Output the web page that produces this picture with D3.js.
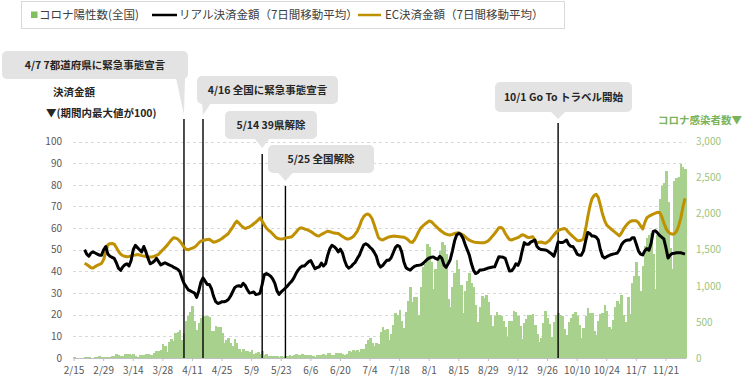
<!DOCTYPE html>
<html><head><meta charset="utf-8">
<script src="https://cdn.jsdelivr.net/npm/d3@7"></script>
<style>
body{margin:0;background:#fff;}
svg{display:block;font-family:"Noto Sans CJK JP","Noto Sans",sans-serif;}
</style>
</head><body>
<svg id="c" width="750" height="385"></svg>
<script>
// ---------------- DATA ----------------
const firstDay = "2020-02-15";
const lastDay = "2020-11-30";

// Daily new COVID-19 positives, Japan (2/15 - 11/30)
const cases = [
  8,5,6,4,3,10,9,14,5,6,14,20,23,18,12,
  11,16,15,32,30,58,47,33,26,59,52,55,41,61,33,15,44,39,40,50,52,42,38,65,93,98,112,200,173,87,220,
  266,235,351,367,383,252,351,515,576,644,720,507,391,482,549,587,576,584,568,368,374,450,436,436,348,202,248,278,203,165,
  263,203,129,86,123,97,98,82,114,60,66,85,55,99,41,58,28,30,31,33,29,19,26,19,21,34,38,32,48,51,37,
  36,51,40,39,44,43,34,13,40,40,41,61,41,72,76,40,38,73,69,68,55,41,57,96,87,105,101,110,86,127,
  121,195,250,274,208,160,207,190,355,428,386,408,252,332,451,623,595,664,511,420,632,795,981,779,842,839,599,982,1264,1301,1580,
  1536,1331,959,1237,1354,1485,1605,1565,1442,813,700,985,1176,1360,1233,1012,617,930,1072,1179,1034,985,740,499,712,862,834,868,781,595,440,
  583,632,591,588,508,428,297,506,510,649,644,582,440,270,485,541,591,596,606,464,339,217,278,479,646,560,478,296,504,598,
  629,597,582,403,312,495,550,609,642,585,457,273,414,583,686,619,626,372,315,509,608,620,740,649,426,402,525,710,787,751,868,
  600,495,842,614,1046,1136,1330,1137,929,1268,1551,1658,1706,1730,1438,951,1699,2201,2386,2424,2596,2168,1520,1228,2450,2500,2510,2684,2650,2620
];

// 7-day moving averages (index, period max = 100), from 2/20
const lineStart = "2020-02-20";
const realPay = [
  50,48,47,48.5,49,48.5,48,47.5,47.5,50,
  51.5,48,47,46.5,46,44,41.5,40.5,42,43,
  43.5,42.5,45,50,52,51,50,49,51.5,49,
  46,43.5,44,44.8,46,44.5,43,43.5,44,43.5,
  43,42.6,42,41.5,41,40,37,34.5,33,31.5,
  31,30.5,30,28,31,35,37,35.5,34,34,
  32,28.5,26,25.2,25.5,26,26,26.3,27,28.5,
  30.5,32.5,33.2,33.4,33,34.5,33.5,31.5,30,30.2,
  30.5,29.3,29.5,30,34,38.5,39,38.5,37.8,36.5,
  34.5,31,29.4,30.5,31.4,32.3,33.3,34.5,35.5,37,
  39,40.6,41.8,42.5,42.5,43.5,44.5,45,43,41.2,
  41.8,42.1,43.8,42.5,43.5,47.5,50.5,52,51.5,50.5,
  49,50.3,48.5,45,42.5,41.5,42.2,43.3,44.2,46,
  47.5,50,52.2,52.8,52.2,51.1,50.3,48.8,47,43.5,
  42,42.7,44,45.1,45.2,46.3,48.6,51,52,51.5,
  49,44.5,41.8,41,40.6,41.5,42.3,42.7,42.8,43,
  43.6,44.5,45.5,46.2,46.5,46.7,46,45.6,47,46,
  43,41.9,43.5,45.5,49.5,54,56.8,57.6,57,55.3,
  52.5,50,47.5,43.5,40.5,39,39.5,40.6,40.7,40.9,
  41.2,41.6,41.8,42,42.1,44.5,46.8,46.7,46.5,46,
  43,40.2,40.3,41.5,43.5,42.8,45,49.5,53.3,52.5,
  52.5,53.5,54,54.5,51.5,50.5,50.1,50,49.9,49.5,
  48.7,48,47,50,53.6,53.4,53.3,53.8,54.5,52.5,
  51.6,51.5,50,48,47.5,47.5,49.5,54,58,57.5,
  56.3,56.3,55.8,54.5,50,47,46.2,46.8,47.3,47.7,
  48,48.2,48.5,50,52.3,53.6,54.3,54.5,54.5,55.5,
  55.5,52.5,49.5,48,47.6,49.5,50.5,49.8,53,58.5,
  58.8,57.8,56.6,55.8,55,51,46.2,47.5,48.3,48.4,
  48.6,48.6,48.6,48.3,48
];
const ecPay = [
  43.8,43.2,42.5,41.7,41.6,42.2,42.8,43.2,43.7,45.5,
  49,52.3,52.8,52.9,52.6,51,49.3,48,47.3,47,
  46.8,46.9,47.2,47.5,47.6,47.8,47.6,47.3,47.1,46.9,
  46.7,46.7,46.7,47,47.4,47.9,49,50,51,52,
  53.3,54.5,55.5,55.4,55,54,52.8,51.2,50.2,50,
  50.4,50.8,51.2,52,53.2,54,54.3,54.5,54.7,54.8,
  54.2,53.5,53.7,54.1,54.6,55.2,56,56.7,57.5,59,
  60.3,62,63.2,62.3,61.2,60.3,59.8,60.2,60.6,61.2,
  62,62.8,63.7,64.7,63.2,61.5,60,59,58.3,57.3,
  56.2,55.4,55.1,54.9,55.1,55.4,55.6,55.8,56,57,
  58.1,59.3,60.1,60,59.6,59.3,58.9,58.4,57.7,57,
  56.5,56.4,57.1,57.6,58.1,58.6,58.3,58,57.7,57.6,
  57.5,56.8,56.1,55.5,55,55,55.4,56,57.2,58.6,
  60.8,63.5,65.3,66.2,66.5,65.8,64.3,61.5,58.5,55.6,
  54.8,54.5,55,55.5,55.9,56.1,56.3,56.2,56.1,56,
  55.9,55.8,55.3,54.6,53.6,53.4,54.5,56.3,58.3,60,
  61,61.8,62.6,63.3,63,62,61,60.1,59.1,58.4,
  57.7,57.2,56.9,56.8,57.1,57.5,57.7,57.8,57.3,56.8,
  56,55.1,54.4,54,53.6,53.4,53.3,53.2,53.2,53.2,
  53.6,54.2,55.2,56.4,57.5,58.8,60.2,60.3,59.5,57.5,
  56,54.7,54.5,54.9,55.3,55.6,56.2,56.9,56.7,56,
  55.6,55.8,56,54.5,53,53.5,53.6,53.2,53,53.6,
  54.4,55.6,56.8,58,58.9,59.3,59.6,59.8,59.2,58,
  57,56.1,55.2,54.3,54.2,54.4,55,59.5,65,70,
  73.5,75,75.6,74.2,70.5,66.5,63.5,61.4,60.5,59.6,
  58.8,58,57.2,56.4,57.8,59.6,61,62.2,63,63.4,
  63.4,63.4,62.5,61,59.6,62.5,64.8,65.5,66,66.5,
  66.9,67.3,67.2,65.4,62.5,59.9,58.4,57.5,57.2,57.4,
  58.5,61,64.5,69.5,73.7
];

const leftTicks = [0,10,20,30,40,50,60,70,80,90,100];
const rightTicks = [0,500,1000,1500,2000,2500,3000];
const xTickLabels = ["2/15","2/29","3/14","3/28","4/11","4/25","5/9","5/23","6/6","6/20","7/4","7/18","8/1","8/15","8/29","9/12","9/26","10/10","10/24","11/7","11/21"];

const annoDates = ["2020-04-07","2020-04-16","2020-05-14","2020-05-25","2020-10-01"];
const annoLabels = ["4/7 7都道府県に緊急事態宣言","4/16 全国に緊急事態宣言","5/14 39県解除","5/25 全国解除","10/1 Go To トラベル開始"];

const legendLabels = ["コロナ陽性数(全国)","リアル決済金額（7日間移動平均）","EC決済金額（7日間移動平均）"];
const leftTitle = ["決済金額","▼(期間内最大値が100)"];
const rightTitle = "コロナ感染者数▼";

// ---------------- LAYOUT / STYLE ----------------
const W = 750, H = 385;
const plot = {left: 73, right: 686, top: 141.5, bottom: 358};
const C = {bar:"#a9d18e", real:"#000000", ec:"#bf9000", grid:"#d9d9d9", axis:"#bfbfbf",
           tick:"#595959", green:"#7ab35a", greenTick:"#9cc47e", box:"#e3e3e3", text:"#262626"};
// callout boxes: x, y, w, h, line top, pointer tip y
const boxLayout = [
  {x:2,   y:51,  w:186, h:28, top:119, tip:115},
  {x:197, y:76,  w:141, h:28, top:119, tip:115},
  {x:225, y:111, w:92,  h:28, top:154, tip:148},
  {x:268, y:145, w:106, h:28, top:186, tip:181},
  {x:495, y:82,  w:137, h:30, top:123, tip:119}
];

const parse = d3.timeParse("%Y-%m-%d");
const fmtMD = d3.timeFormat("%-m/%-d");
const days = d3.timeDay.range(parse(firstDay), d3.timeDay.offset(parse(lastDay), 1));
const keys = days.map(d => d3.timeFormat("%Y-%m-%d")(d));

const x = d3.scaleBand().domain(keys).range([plot.left, plot.right]).padding(0);
const bw = x.bandwidth();
const cx = k => x(k) + bw / 2;
const yL = d3.scaleLinear().domain([0,100]).range([plot.bottom, plot.top]);
const yR = d3.scaleLinear().domain([0,3000]).range([plot.bottom, plot.top]);

const svg = d3.select("#c");
svg.append("rect").attr("width", W).attr("height", H).attr("fill", "#fff");

// gridlines
svg.append("g").selectAll("line").data(leftTicks.filter(t => t > 0)).join("line")
  .attr("x1", plot.left).attr("x2", plot.right)
  .attr("y1", d => Math.round(yL(d)) + 0.5).attr("y2", d => Math.round(yL(d)) + 0.5)
  .attr("stroke", C.grid).attr("stroke-width", 1).attr("stroke-dasharray", "3,3");

// bars
svg.append("g").attr("shape-rendering", "crispEdges").selectAll("rect").data(cases).join("rect")
  .attr("x", (d, i) => x(keys[i]))
  .attr("width", bw + 0.6)
  .attr("y", d => yR(d))
  .attr("height", d => plot.bottom - yR(d))
  .attr("fill", C.bar);

// x axis
const xAxis = d3.axisBottom(x)
  .tickValues(keys.filter(k => xTickLabels.includes(fmtMD(parse(k)))))
  .tickFormat(k => fmtMD(parse(k)))
  .tickSizeInner(3).tickSizeOuter(0).tickPadding(6);
const gx = svg.append("g").attr("transform", `translate(0,${plot.bottom})`).call(xAxis);
gx.select(".domain").attr("stroke", C.axis);
gx.selectAll(".tick line").attr("stroke", C.axis);
gx.selectAll(".tick text").attr("fill", C.tick).attr("font-size", 10).attr("font-family", "'Noto Sans CJK JP',sans-serif");

// left axis
const gl = svg.append("g").attr("transform", `translate(${plot.left - 11},0)`)
  .call(d3.axisLeft(yL).tickValues(leftTicks).tickSize(0).tickPadding(0));
gl.select(".domain").remove();
gl.selectAll(".tick text").attr("fill", C.tick).attr("font-size", 10).attr("font-family", "'Noto Sans CJK JP',sans-serif");

// right axis
const gr = svg.append("g").attr("transform", `translate(696,0)`)
  .call(d3.axisRight(yR).tickValues(rightTicks).tickFormat(d3.format(",")).tickSize(0).tickPadding(0));
gr.select(".domain").remove();
gr.selectAll(".tick text").attr("fill", C.greenTick).attr("font-size", 10).attr("font-family", "'Noto Sans CJK JP',sans-serif");

// annotation vertical lines
annoDates.forEach((d, i) => {
  svg.append("line").attr("x1", cx(d)).attr("x2", cx(d))
    .attr("y1", boxLayout[i].top).attr("y2", plot.bottom)
    .attr("stroke", "#000").attr("stroke-width", 1.4);
});

// lines
const lineIdx = keys.indexOf(lineStart);
const mkLine = d3.line().x((d, i) => cx(keys[lineIdx + i])).y(d => yL(d));
svg.append("path").datum(ecPay).attr("d", mkLine).attr("fill", "none")
  .attr("stroke", C.ec).attr("stroke-width", 3).attr("stroke-linejoin", "round");
svg.append("path").datum(realPay).attr("d", mkLine).attr("fill", "none")
  .attr("stroke", C.real).attr("stroke-width", 3).attr("stroke-linejoin", "round");

// callouts
annoDates.forEach((d, i) => {
  const b = boxLayout[i];
  const tx = cx(d);
  const bl = Math.max(b.x + 5, tx - 8), br = Math.min(b.x + b.w - 3, tx + 8);
  const g = svg.append("g");
  g.append("path").attr("d", `M${bl},${b.y + b.h - 1}L${tx},${b.tip}L${br},${b.y + b.h - 1}Z`).attr("fill", C.box);
  g.append("rect").attr("x", b.x).attr("y", b.y).attr("width", b.w).attr("height", b.h).attr("rx", 5).attr("fill", C.box);
  g.append("text").attr("x", b.x + b.w / 2).attr("y", b.y + b.h / 2).attr("dy", "0.35em")
    .attr("text-anchor", "middle").attr("font-size", 10.5).attr("font-weight", "bold").attr("fill", C.text)
    .text(annoLabels[i]);
});

// axis titles
svg.append("text").attr("x", 53).attr("y", 92).attr("dy", "0.35em").attr("font-size", 10.5)
  .attr("font-weight", "bold").attr("fill", C.text).text(leftTitle[0]);
svg.append("text").attr("x", 46).attr("y", 113).attr("dy", "0.35em").attr("font-size", 10.5)
  .attr("font-weight", "bold").attr("fill", C.text).text(leftTitle[1]);
svg.append("text").attr("x", 658).attr("y", 120).attr("dy", "0.35em").attr("font-size", 10.5)
  .attr("font-weight", "bold").attr("fill", C.green).text(rightTitle);

// legend
const lg = svg.append("g");
lg.append("rect").attr("x", 21.5).attr("y", 1.5).attr("width", 543).attr("height", 27)
  .attr("fill", "#fff").attr("stroke", "#d9d9d9");
lg.append("rect").attr("x", 31).attr("y", 11.5).attr("width", 6.5).attr("height", 6.5).attr("fill", "#7fbf5e");
lg.append("line").attr("x1", 152).attr("x2", 177).attr("y1", 15).attr("y2", 15).attr("stroke", C.real).attr("stroke-width", 2.5);
lg.append("line").attr("x1", 358).attr("x2", 381).attr("y1", 15).attr("y2", 15).attr("stroke", C.ec).attr("stroke-width", 2.5);
[[39, legendLabels[0]], [179, legendLabels[1]], [385, legendLabels[2]]].forEach(([lx, t]) => {
  lg.append("text").attr("x", lx).attr("y", 15).attr("dy", "0.35em").attr("font-size", 11.5)
    .attr("fill", "#404040").text(t);
});
</script>
</body></html>
